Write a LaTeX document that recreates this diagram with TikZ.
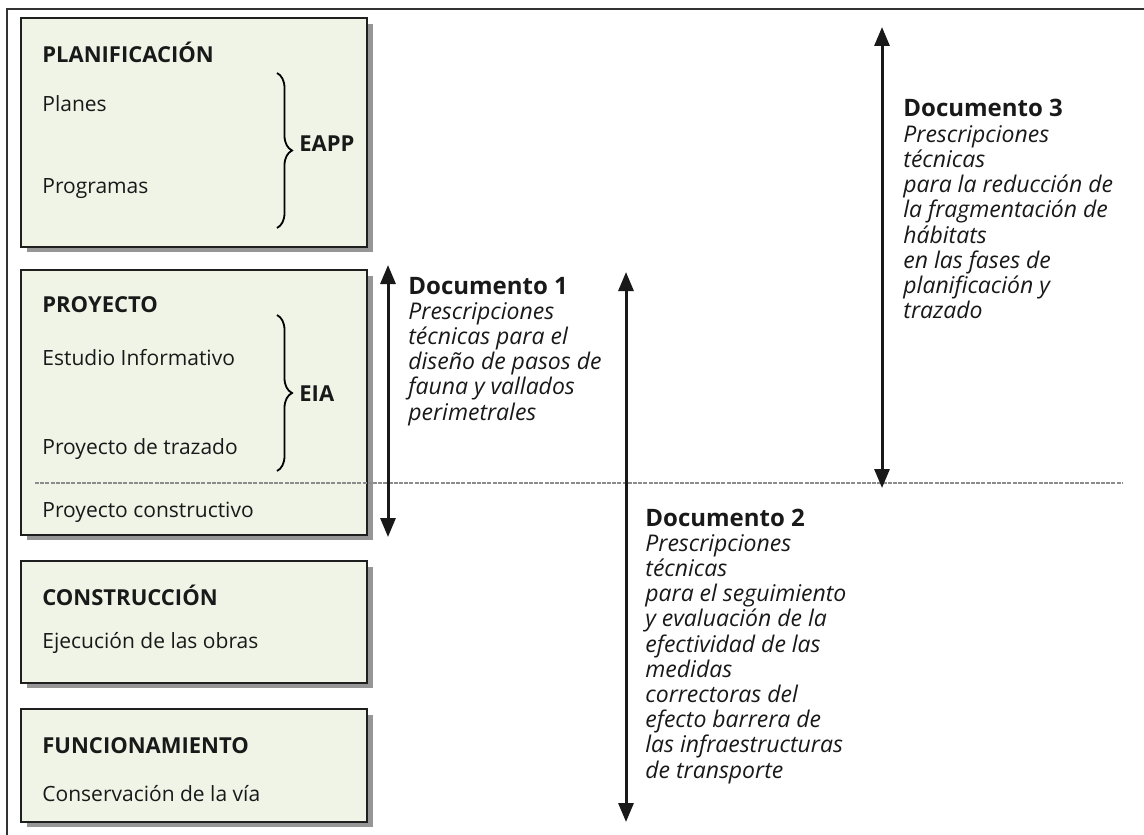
\documentclass[tikz,border=0pt]{standalone}
\usepackage{fontspec}
\setmainfont{Open Sans}
\usetikzlibrary{arrows.meta,decorations.pathreplacing,positioning}
\definecolor{boxgreen}{RGB}{239,244,231}
\definecolor{sombragris}{RGB}{150,150,150}

\tikzset{
  fase/.style={draw=black!88,line width=1pt,fill=boxgreen},
  sombra/.style={fill=sombragris},
  docflecha/.style={{Triangle[length=9.5pt,width=7.5pt]}-{Triangle[length=9.5pt,width=7.5pt]},line width=1.5pt,black!90},
  llave/.style={decorate,decoration={brace,amplitude=7.5pt},line width=0.9pt},
  txt/.style={anchor=base west,inner sep=0pt,font=\fontsize{10.5}{12}\selectfont,text=black!90},
  tit/.style={txt,font=\fontsize{11}{12}\selectfont\bfseries},
  doctit/.style={txt,font=\fontsize{12}{13}\selectfont\bfseries},
  doctxt/.style={inner sep=0pt,align=left,text=black!90,font=\fontsize{11.5}{12.6}\selectfont\itshape},
}

\begin{document}
\begin{tikzpicture}[x=0.5pt,y=-0.5pt]
    \useasboundingbox (0,0) rectangle (1144,834);
    \draw[line width=1pt,black!80](7,900)--(7,9)--(1200,9);
    % fases
    \foreach \ya/\yb in {18/247,270/535,561/683,709/822}{
        \fill[sombra](27,\ya+6) rectangle (373,\yb+5);
        \draw[fase](21,\ya) rectangle (367,\yb);
    }
    \draw[black!45,line width=0.9pt,dash pattern=on 2pt off 0.6pt](35,483)--(1123,483);
    \node[tit](plan) at (42,63){PLANIFICACIÓN};
    \node[txt](planes) at (42,112){Planes};
    \node[txt](progr) at (42,194){Programas};
    \node[tit](proy) at (42,312){PROYECTO};
    \node[txt](estudio) at (42,365){Estudio Informativo};
    \node[txt](trazado) at (42,454){Proyecto de trazado};
    \node[txt](constr) at (42,517){Proyecto constructivo};
    \node[tit](const) at (42,605){CONSTRUCCIÓN};
    \node[txt](obras) at (42,648){Ejecución de las obras};
    \node[tit](func) at (42,753){FUNCIONAMIENTO};
    \node[txt](conserv) at (42,801){Conservación de la vía};
    % llaves
    \draw[llave](277,73)--(277,228);
    \draw[llave](277,315)--(277,471);
    \node[tit](eapp) at (299,152){EAPP};
    \node[tit](eia) at (299,401){EIA};
    % documentos
    \coordinate(d1a) at (388,265);
    \coordinate(d1b) at (388,537);
    \coordinate(d2a) at (626,272);
    \coordinate(d2b) at (626,822);
    \coordinate(d3a) at (882,27);
    \coordinate(d3b) at (882,488);
    \draw[docflecha](d1a)--(d1b);
    \draw[docflecha](d2a)--(d2b);
    \draw[docflecha](d3a)--(d3b);
    \node[doctit](d1tit) at (408,294){Documento 1};
    \node[doctxt,below right=4pt and 0pt of d1tit.base west](d1txt){Prescripciones\\técnicas para el\\diseño de pasos de\\fauna y vallados\\perimetrales};
    \node[doctit](d2tit) at (645,526){Documento 2};
    \node[doctxt,below right=4pt and 0pt of d2tit.base west](d2txt){Prescripciones\\técnicas\\para el seguimiento\\y evaluación de la\\efectividad de las\\medidas\\correctoras del\\efecto barrera de\\las infraestructuras\\de transporte};
    \node[doctit](d3tit) at (903,117){Documento 3};
    \node[doctxt,below right=4pt and 0pt of d3tit.base west](d3txt){Prescripciones\\técnicas\\para la reducción de\\la fragmentación de\\hábitats\\en las fases de\\planificación y\\trazado};
\end{tikzpicture}
\end{document}
